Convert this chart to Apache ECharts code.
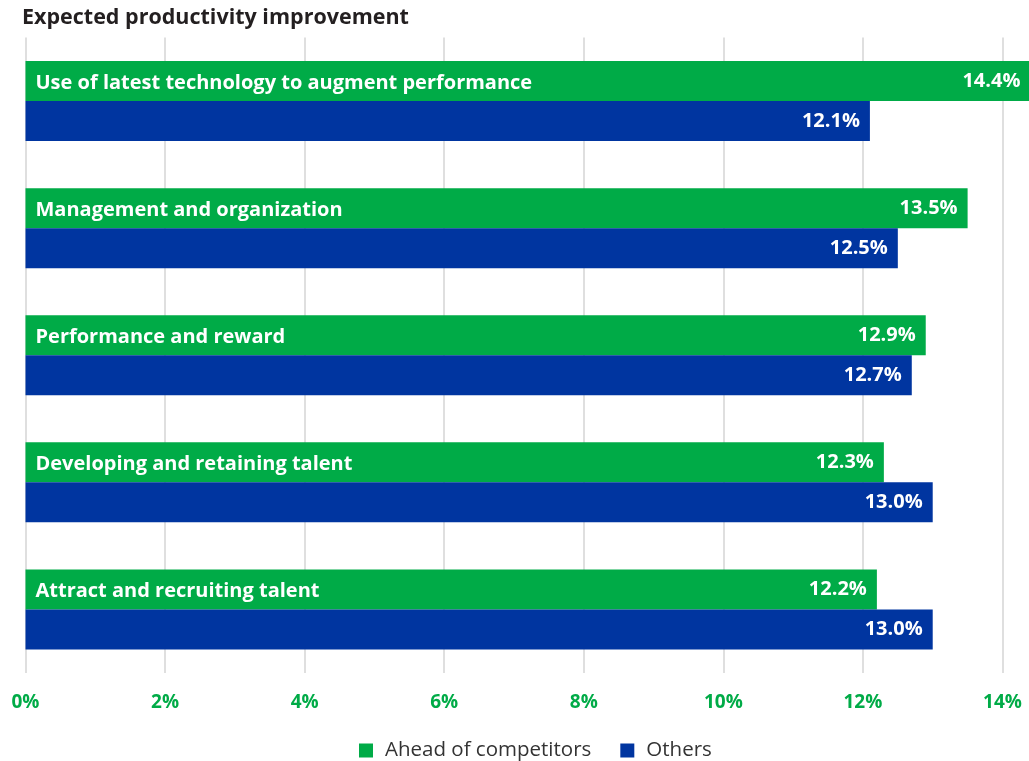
<!DOCTYPE html>
<html>
<head>
<meta charset="utf-8">
<script src="https://cdn.jsdelivr.net/npm/echarts@6/dist/echarts.min.js"></script>
<style>
  html, body { margin: 0; padding: 0; background: #fff; }
  #main { width: 1029px; height: 761px; }
</style>
</head>
<body>
<div id="main"></div>
<script>
var categories = ['Use of latest technology to augment performance', 'Management and organization',
  'Performance and reward', 'Developing and retaining talent', 'Attract and recruiting talent'];
var seriesNames = ['Ahead of competitors', 'Others'];
var aheadValues = [14.4, 13.5, 12.9, 12.3, 12.2];
var otherValues = [12.1, 12.5, 12.7, 13.0, 13.0];
var xTicks = [0, 2, 4, 6, 8, 10, 12, 14];

var GREEN = '#00ab47';
var BLUE = '#0035a0';
var FONT = 'Open Sans';

var chart = echarts.init(document.getElementById('main'));

function valueLabel() {
  return {
    show: true,
    position: 'insideRight',
    distance: 10,
    color: '#fff',
    fontFamily: FONT,
    fontWeight: 'bold',
    fontSize: 20,
    formatter: function (p) { return p.value.toFixed(1) + '%'; }
  };
}

var option = {
  animation: false,
  title: {
    text: 'Expected productivity improvement',
    left: 17,
    top: 2,
    textStyle: { fontFamily: FONT, fontWeight: 'bold', fontSize: 21.5, color: '#231f20' }
  },
  legend: {
    top: 740,
    left: 359,
    padding: 0,
    itemWidth: 14,
    itemHeight: 14,
    itemGap: 29,
    icon: 'rect',
    textStyle: { fontFamily: FONT, fontSize: 20.5, color: '#333', padding: [0, 0, 0, 7] },
    data: seriesNames
  },
  grid: { left: 25.5, right: 26.5, top: 37.5, bottom: 88 },
  xAxis: {
    type: 'value',
    min: 0,
    max: 14,
    interval: 2,
    axisLine: { show: false },
    axisTick: { show: false },
    splitLine: { show: true, lineStyle: { color: '#d4d4d4', width: 1.5 } },
    axisLabel: {
      margin: 20,
      color: GREEN,
      fontFamily: FONT,
      fontWeight: 'bold',
      fontSize: 19,
      formatter: function (v) { return xTicks.indexOf(v) >= 0 ? v + '%' : ''; }
    }
  },
  yAxis: {
    type: 'category',
    inverse: true,
    data: categories,
    z: 10,
    axisLine: { show: false },
    axisTick: { show: false },
    axisLabel: {
      inside: true,
      margin: 10,
      color: '#fff',
      fontFamily: FONT,
      fontWeight: 'bold',
      fontSize: 20,
      lineHeight: 36,
      // second (empty) line pushes the name up onto the green bar
      formatter: function (v) { return v + '\n '; }
    }
  },
  series: [{
    name: seriesNames[0],
    type: 'bar',
    data: aheadValues,
    barWidth: 40,
    barGap: '0%',
    clip: false,
    itemStyle: { color: GREEN },
    label: valueLabel()
  }, {
    name: seriesNames[1],
    type: 'bar',
    data: otherValues,
    barWidth: 40,
    barGap: '0%',
    clip: false,
    itemStyle: { color: BLUE },
    label: valueLabel()
  }]
};

chart.setOption(option);
</script>
</body>
</html>
